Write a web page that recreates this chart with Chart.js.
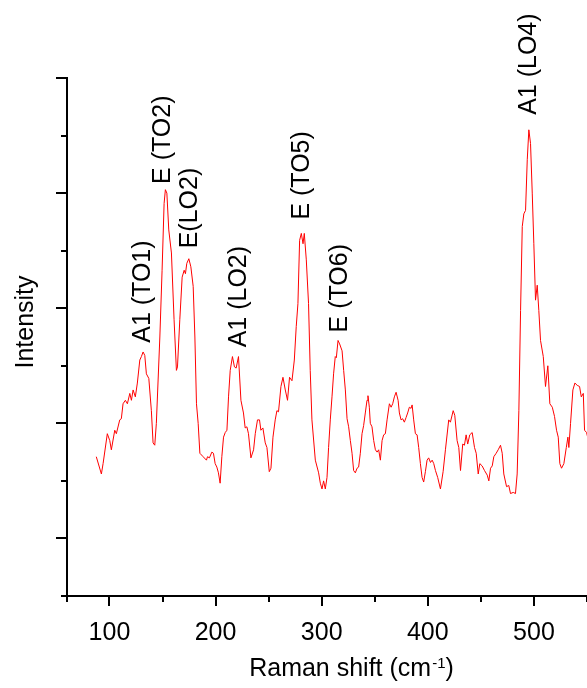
<!DOCTYPE html>
<html>
<head>
<meta charset="utf-8">
<title>Raman spectrum</title>
<script src="https://cdn.jsdelivr.net/npm/chart.js@4/dist/chart.umd.min.js"></script>
<style>
  html, body { margin: 0; padding: 0; background: #fff; }
  #wrap { width: 587px; height: 688px; }
</style>
</head>
<body>
<div id="wrap"><canvas id="ramanChart"></canvas></div>
<script>
// Raman shift (cm-1)
const ramanShift = [
  87.6, 92.4, 94.0, 98.0, 100.3, 101.8, 105.0, 106.5, 109.7, 111.2, 112.8, 115.0, 116.9, 119.2, 120.7, 122.3, 124.4, 126.3, 128.6, 130.1,
  131.7, 133.3, 134.8, 137.1, 139.5, 141.1, 142.7, 144.2, 147.5, 149.6, 151.5, 152.7, 154.1, 155.9, 158.4, 160.9, 163.1, 164.1, 166.3, 168.5,
  170.4, 171.6, 172.9, 174.8, 176.7, 178.9, 180.5, 182.0, 183.6, 185.2, 188.3, 191.4,
  192.4, 194.2, 196.5, 198.0, 199.6, 201.2, 202.7, 204.3, 205.9, 207.5, 209.1, 210.7, 212.2, 213.8, 215.9, 217.8, 219.4, 221.6, 223.9, 226.3,
  227.9, 229.5, 231.0, 233.3, 235.8, 237.4, 239.5, 241.4, 242.7, 244.6, 246.8, 248.4, 250.6, 252.2, 254.1, 256.2, 257.8, 259.3, 261.6, 263.5,
  265.7, 267.8, 269.7, 272.0, 274.2, 276.0, 277.6, 279.2, 280.8, 282.4, 283.6, 285.5, 287.6, 289.2, 290.8, 294.0, 297.1, 298.7,
  300.3, 301.8, 303.4, 305.0, 306.5, 308.1, 309.7, 311.2, 312.8, 313.8, 315.4, 316.9, 319.2, 320.7, 322.3, 323.9, 325.4, 327.0, 328.6, 330.1,
  331.7, 333.3, 334.8, 336.4, 338.0, 339.5, 341.1, 342.7, 343.6, 344.9, 345.8, 347.4, 349.0, 350.6, 352.2, 353.7, 355.3, 356.9, 358.4, 360.0,
  361.6, 363.8, 365.4, 366.9, 368.5, 370.1, 372.0, 373.2, 374.8, 376.3, 377.9, 379.5, 381.0, 382.6, 384.2, 385.2, 386.7, 388.3, 389.9, 391.4,
  393.0, 394.6, 396.1, 397.7, 399.3, 400.8, 402.5, 404.1, 405.6, 407.2,
  409.3, 411.9, 414.4, 416.6, 419.7, 421.3, 423.9, 425.4, 427.6, 429.2, 430.8, 432.9, 434.5, 436.1, 437.6, 439.5, 441.8, 444.0, 445.6, 447.5,
  449.0, 451.2, 453.4, 456.0, 457.5, 459.1, 460.7, 462.2, 464.4, 466.3, 468.5, 470.1, 471.6, 474.2, 476.3, 477.9, 480.5, 482.6, 484.2, 485.8,
  487.4, 489.0, 490.5, 492.1, 493.7, 495.2, 496.8, 498.4, 499.9, 501.5, 503.1, 504.6, 506.2, 508.8, 510.9, 513.1, 515.0, 517.3, 519.4, 521.3,
  522.9, 524.4, 526.0, 528.2, 530.5, 532.0, 532.9, 534.5, 536.7, 538.6, 540.8, 543.0, 544.6, 546.5, 547.7, 549.6, 550.6
];

// intensity (arbitrary units, major ticks at whole numbers)
const intensity = [
  0.71, 0.56, 0.65, 0.91, 0.85, 0.77, 0.94, 0.91, 1.03, 1.04, 1.17, 1.20, 1.17, 1.26, 1.20, 1.29, 1.23, 1.35, 1.55, 1.58,
  1.62, 1.59, 1.43, 1.39, 1.11, 0.83, 0.81, 1.00, 1.75, 2.33, 2.91, 3.03, 3.00, 2.68, 2.48, 1.90, 1.46, 1.49, 1.90, 2.27,
  2.33, 2.30, 2.39, 2.43, 2.36, 2.19, 1.75, 1.17, 1.00, 0.74, 0.71, 0.68,
  0.71, 0.70, 0.75, 0.74, 0.65, 0.62, 0.57, 0.48, 0.71, 0.88, 0.92, 0.94, 1.23, 1.46, 1.58, 1.49, 1.48, 1.58, 1.20, 1.09,
  0.96, 0.97, 0.91, 0.70, 0.77, 0.91, 1.03, 1.03, 0.94, 0.96, 0.83, 0.79, 0.58, 0.61, 0.88, 1.03, 1.11, 1.10, 1.32, 1.40,
  1.29, 1.20, 1.40, 1.37, 1.55, 1.84, 2.04, 2.59, 2.65, 2.56, 2.65, 2.42, 2.04, 1.46, 1.03, 0.68, 0.57, 0.48,
  0.43, 0.50, 0.43, 0.53, 0.79, 1.03, 1.23, 1.43, 1.58, 1.57, 1.72, 1.69, 1.63, 1.46, 1.29, 1.04, 0.97, 0.85, 0.74, 0.59,
  0.57, 0.61, 0.62, 0.74, 0.91, 0.98, 1.09, 1.20, 1.24, 1.14, 1.00, 0.97, 0.85, 0.77, 0.75, 0.77, 0.68, 0.85, 0.90, 0.91,
  1.03, 1.17, 1.14, 1.17, 1.23, 1.27, 1.20, 1.09, 1.03, 1.04, 1.01, 1.05, 1.09, 1.14, 1.13, 1.16, 1.03, 0.91, 0.90, 0.79,
  0.65, 0.53, 0.49, 0.58, 0.68, 0.70, 0.66, 0.68, 0.65, 0.59,
  0.53, 0.43, 0.58, 0.77, 1.03, 1.01, 1.11, 1.07, 0.85, 0.79, 0.59, 0.82, 0.81, 0.90, 0.82, 0.90, 0.92, 0.79, 0.74, 0.56,
  0.65, 0.63, 0.59, 0.55, 0.50, 0.61, 0.63, 0.71, 0.74, 0.77, 0.81, 0.74, 0.56, 0.45, 0.46, 0.39, 0.40, 0.39, 0.56, 1.11,
  1.98, 2.71, 2.82, 2.85, 3.29, 3.55, 3.43, 3.00, 2.56, 2.07, 2.20, 1.98, 1.72, 1.58, 1.32, 1.50, 1.17, 1.14, 1.06, 0.94,
  0.88, 0.65, 0.61, 0.65, 0.79, 0.88, 0.79, 1.00, 1.29, 1.35, 1.33, 1.32, 1.23, 1.26, 0.94, 0.92, 0.88
];

// mode labels, written upwards; x/y is where each label starts
const peakNames = ['A1 (TO1)', 'E (TO2)', 'E(LO2)', 'A1 (LO2)', 'E (TO5)', 'E (TO6)', 'A1 (LO4)'];
const peakX = [129.8, 148.7, 174.2, 219.9, 279.8, 315.7, 493.0];
const peakY = [1.70, 3.08, 2.52, 1.66, 2.77, 1.79, 3.68];

const xTickValues = [100, 150, 200, 250, 300, 350, 400, 450, 500, 550];
const yTickValues = [-0.5, 0, 0.5, 1, 1.5, 2, 2.5, 3, 3.5, 4];

const FONT = '"Liberation Sans", Arial, sans-serif';

// Origin-style ticks: long on major, short on minor, pointing out
const axisTicks = {
  id: 'axisTicks',
  afterDraw(chart) {
    const { ctx, scales: { x, y } } = chart;
    ctx.save();
    ctx.strokeStyle = '#000';
    ctx.lineWidth = 2;
    x.ticks.forEach(t => {
      const px = Math.round(x.getPixelForValue(t.value));
      const len = t.value % 100 === 0 ? 10 : 6;
      ctx.beginPath();
      ctx.moveTo(px, y.bottom);
      ctx.lineTo(px, y.bottom + len);
      ctx.stroke();
    });
    y.ticks.forEach(t => {
      const py = Math.round(y.getPixelForValue(t.value));
      const len = Math.abs(t.value - Math.round(t.value)) < 1e-6 ? 11 : 6;
      ctx.beginPath();
      ctx.moveTo(x.left, py);
      ctx.lineTo(x.left - len, py);
      ctx.stroke();
    });
    // y axis runs a little below the x axis
    ctx.beginPath();
    ctx.moveTo(x.left, y.bottom);
    ctx.lineTo(x.left, y.bottom + 6);
    ctx.stroke();
    ctx.restore();
  }
};

// peak labels and axis titles
const textLayer = {
  id: 'textLayer',
  afterDraw(chart) {
    const { ctx, chartArea, scales: { x, y } } = chart;
    ctx.save();
    ctx.fillStyle = '#000';
    ctx.font = '25px ' + FONT;
    ctx.textBaseline = 'alphabetic';

    ctx.textAlign = 'left';
    peakNames.forEach((name, i) => {
      const px = x.getPixelForValue(peakX[i]) + 9;
      const py = y.getPixelForValue(peakY[i]);
      ctx.save();
      ctx.translate(px, py);
      ctx.rotate(-Math.PI / 2);
      ctx.fillText(name, 0, 0);
      ctx.restore();
    });

    // y title
    ctx.save();
    ctx.textAlign = 'center';
    ctx.translate(33, chartArea.top + 244);
    ctx.rotate(-Math.PI / 2);
    ctx.fillText('Intensity', 0, 0);
    ctx.restore();

    // x title with superscript
    const main = 'Raman shift (cm';
    const sup = '-1';
    const close = ')';
    ctx.font = '25px ' + FONT;
    const w1 = ctx.measureText(main).width;
    const w3 = ctx.measureText(close).width;
    ctx.font = '15px ' + FONT;
    const w2 = ctx.measureText(sup).width;
    const cx = chartArea.left + 284;
    const base = chartArea.bottom + 80;
    let sx = cx - (w1 + w2 + w3) / 2;
    ctx.textAlign = 'left';
    ctx.font = '25px ' + FONT;
    ctx.fillText(main, sx, base);
    ctx.font = '15px ' + FONT;
    ctx.fillText(sup, sx + w1 + 1, base - 8);
    ctx.font = '25px ' + FONT;
    ctx.fillText(close, sx + w1 + w2 + 1, base);
    ctx.restore();
  }
};

const points = ramanShift.map((v, i) => ({ x: v, y: intensity[i] }));

new Chart(document.getElementById('ramanChart'), {
  type: 'line',
  data: {
    datasets: [{
      data: points,
      borderColor: 'rgb(255, 0, 0)',
      borderWidth: 1,
      pointRadius: 0,
      tension: 0,
      fill: false
    }]
  },
  options: {
    responsive: true,
    maintainAspectRatio: false,
    animation: false,
    layout: { padding: { top: 78, right: 0, left: 0, bottom: 0 } },
    plugins: {
      legend: { display: false },
      tooltip: { enabled: false }
    },
    scales: {
      x: {
        type: 'linear',
        min: 60,
        max: 550,
        grid: { display: false },
        border: { color: '#000', width: 2 },
        afterBuildTicks: scale => { scale.ticks = xTickValues.map(v => ({ value: v })); },
        afterFit: scale => {
          scale.height = 92;
          scale.paddingLeft = 0;
          scale.paddingRight = 0;
        },
        ticks: {
          padding: 14,
          color: '#000',
          maxRotation: 0,
          autoSkip: false,
          font: { family: FONT, size: 25 },
          callback: v => (v % 100 === 0 ? String(v) : '')
        }
      },
      y: {
        min: -0.5,
        max: 4,
        grid: { display: false },
        border: { color: '#000', width: 2 },
        afterBuildTicks: scale => { scale.ticks = yTickValues.map(v => ({ value: v })); },
        afterFit: scale => {
          scale.width = 67;
          scale.paddingTop = 0;
          scale.paddingBottom = 0;
        },
        ticks: { display: false }
      }
    }
  },
  plugins: [axisTicks, textLayer]
});
</script>
</body>
</html>
